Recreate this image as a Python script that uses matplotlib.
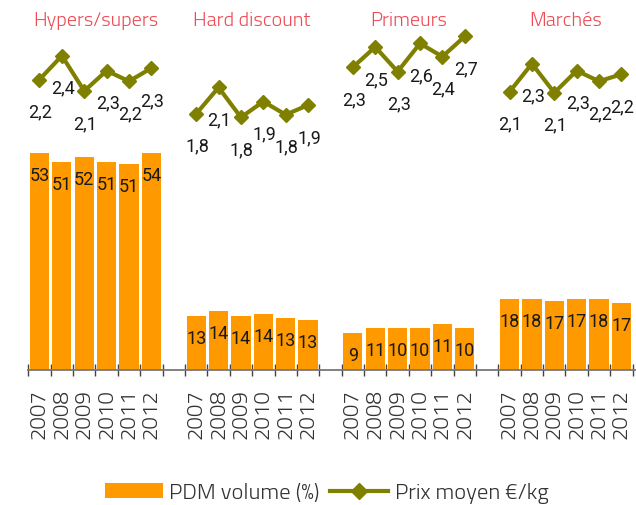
import numpy as np
import matplotlib
matplotlib.use("Agg")
import matplotlib.pyplot as plt
from matplotlib.patches import Patch
from matplotlib.lines import Line2D

# data
circuits = ["Hypers/supers", "Hard discount", "Primeurs", "Marchés"]
years = ["2007", "2008", "2009", "2010", "2011", "2012"]

# PDM volume (%) - bar heights and the printed labels
pdm_hypers = [54.0, 51.7, 53.0, 51.7, 51.2, 54.0]
pdm_hard = [13.4, 14.7, 13.4, 13.9, 12.9, 12.4]
pdm_primeurs = [9.2, 10.4, 10.4, 10.4, 11.4, 10.4]
pdm_marches = [17.7, 17.7, 17.2, 17.7, 17.7, 16.7]
pdm_labels = [
    ["53", "51", "52", "51", "51", "54"],
    ["13", "14", "14", "14", "13", "13"],
    ["9", "11", "10", "10", "11", "10"],
    ["18", "18", "17", "17", "18", "17"],
]

# Prix moyen €/kg - point values and printed labels
prix_hypers = [2.20, 2.47, 2.07, 2.30, 2.18, 2.33]
prix_hard = [1.81, 2.11, 1.77, 1.95, 1.80, 1.91]
prix_primeurs = [2.34, 2.57, 2.29, 2.61, 2.46, 2.69]
prix_marches = [2.06, 2.38, 2.05, 2.30, 2.18, 2.26]
prix_labels = [
    ["2,2", "2,4", "2,1", "2,3", "2,2", "2,3"],
    ["1,8", "2,1", "1,8", "1,9", "1,8", "1,9"],
    ["2,3", "2,5", "2,3", "2,6", "2,4", "2,7"],
    ["2,1", "2,3", "2,1", "2,3", "2,2", "2,2"],
]

pdm = [pdm_hypers, pdm_hard, pdm_primeurs, pdm_marches]
prix = [prix_hypers, prix_hard, prix_primeurs, prix_marches]

BAR = "#ff9900"
OLIVE = "#808000"
TITLE_RED = "#ee4b55"
LIGHT = "Titillium Web"
NUM = ["Roboto", "DejaVu Sans"]

W, H = 636, 506
fig = plt.figure(figsize=(W / 100, H / 100), dpi=100)
ax = fig.add_axes([28.3 / W, 135 / H, (W - 28.3) / W, (H - 135) / H])
ax2 = ax.twinx()

# 6 years per circuit, one empty slot between circuits
xpos = []
for g in range(len(circuits)):
    xpos.append(np.arange(len(years)) + g * (len(years) + 1))

for g in range(len(circuits)):
    bars = ax.bar(xpos[g], pdm[g], width=0.86, color=BAR, zorder=2)
    for b, lab in zip(bars, pdm_labels[g]):
        ax.annotate(lab, (b.get_x() + b.get_width() / 2, b.get_height()),
                    xytext=(0, -16), textcoords="offset points",
                    ha="center", va="center", fontsize=13, family=NUM,
                    color="#1a1a1a", zorder=3)
    ax2.plot(xpos[g], prix[g], color=OLIVE, lw=3, marker="D", ms=7.5,
             mec=OLIVE, mfc=OLIVE, zorder=4)
    for x, y, lab in zip(xpos[g], prix[g], prix_labels[g]):
        ax2.annotate(lab, (x, y), xytext=(0.7, -23), textcoords="offset points",
                     ha="center", va="center", fontsize=13, family=NUM,
                     color="#1a1a1a")
    ax.text(xpos[g].mean(), 0.943, circuits[g], transform=ax.get_xaxis_transform(),
            ha="center", va="center", fontsize=14.5, family=LIGHT, weight=300,
            color=TITLE_RED)

ncat = len(circuits) * (len(years) + 1) - 1
ax.set_xlim(-0.5, ncat - 0.5 + 0.15)
ax.set_ylim(0, (H - 135) / 4.02)
ax2.set_ylim(-1.101, 3.115)

allx = np.concatenate(xpos)
ax.set_xticks(allx)
ax.set_xticklabels(years * len(circuits), rotation=90, family=LIGHT,
                   weight=300, fontsize=16, color="#333333")
ax.tick_params(axis="x", which="major", length=0, pad=13)
ax.set_xticks(np.arange(ncat + 1) - 0.5, minor=True)
ax.tick_params(axis="x", which="minor", direction="inout", length=9,
               width=1, color="#444444")
ax.set_yticks([])
ax2.set_yticks([])

for a in (ax, ax2):
    for s in ("top", "left", "right", "bottom"):
        a.spines[s].set_visible(False)
ax.spines["bottom"].set_visible(True)
ax.spines["bottom"].set_color("#777777")
ax.spines["bottom"].set_linewidth(1.3)
ax.patch.set_visible(False)

handles = [
    Patch(facecolor=BAR, edgecolor="none"),
    Line2D([], [], color=OLIVE, lw=3, marker="D", ms=8, mfc=OLIVE, mec=OLIVE),
]
fig.legend(handles, ["PDM volume (%)", "Prix moyen €/kg"], loc="center",
           bbox_to_anchor=(326.5 / W, 12 / H), ncol=2, frameon=False,
           prop={"family": LIGHT, "weight": 300, "size": 16.2},
           labelcolor="#333333", handlelength=2.6, handleheight=0.62,
           handletextpad=0.27, columnspacing=0.45, numpoints=1,
           borderpad=0, borderaxespad=0)

fig.savefig("out.png", dpi=100)
